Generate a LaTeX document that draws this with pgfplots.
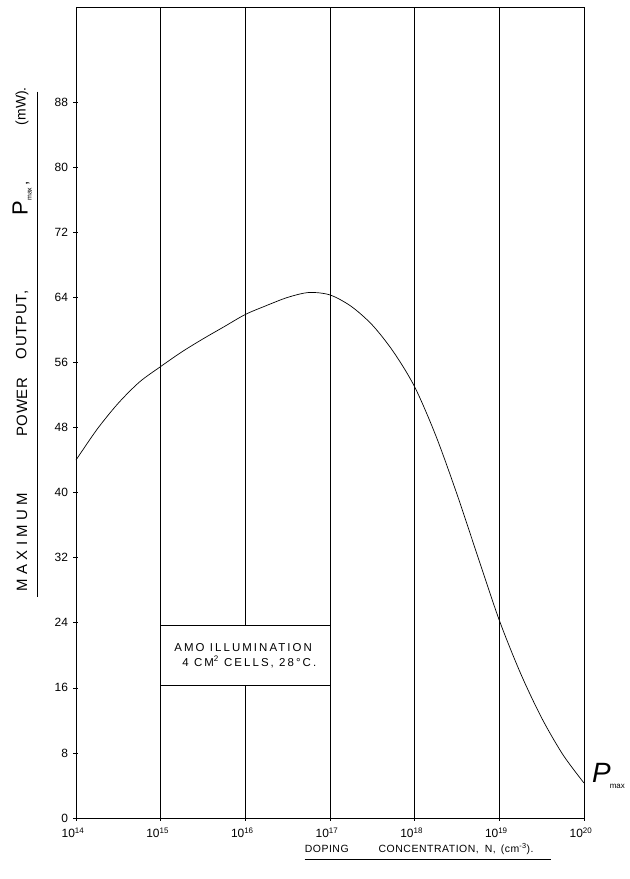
\documentclass[border=0pt]{standalone}
\usepackage{pgfplots}
\pgfplotsset{compat=1.18}
\usepackage{fontspec}
\setmainfont{Liberation Sans}
\newfontfamily\hand[LetterSpace=5]{Liberation Sans}
\newfontfamily\handbox[LetterSpace=18]{Liberation Sans}
\newfontfamily\handwide[LetterSpace=30]{Liberation Sans}
\begin{document}
\begin{tikzpicture}
\begin{axis}[
  name=ax,
  scale only axis,
  width=508bp, height=811bp,
  xmin=14, xmax=20, ymin=0, ymax=99.7,
  xtick={14,15,16,17,18,19,20},
  xticklabels={10\textsuperscript{14},10\textsuperscript{15},10\textsuperscript{16},10\textsuperscript{17},10\textsuperscript{18},10\textsuperscript{19},10\textsuperscript{20}},
  ytick={0,8,16,24,32,40,48,56,64,72,80,88},
  xtick pos=bottom, ytick pos=left,
  xmajorgrids,
  grid style={black, line width=0.6pt},
  axis line style={black, line width=0.7pt},
  tick style={black, line width=0.6pt},
  tick align=center,
  major tick length=5bp,
  /pgf/number format/assume math mode=true,
  yticklabel style={font=\fontsize{12}{12}\selectfont, xshift=-2bp},
  xticklabel style={font=\fontsize{12}{12}\selectfont, yshift=-4bp, xshift=-3bp},
  clip=false,
]
\addplot[smooth, black, line width=0.7pt] coordinates {
(14.0,44.0) (14.25,47.8) (14.5,51.0) (14.75,53.6) (15.0,55.5)
(15.25,57.3) (15.5,58.9) (15.75,60.4) (16.0,61.9) (16.25,63.0)
(16.5,64.0) (16.75,64.6) (17.0,64.3) (17.25,62.9) (17.5,60.6)
(17.75,57.3) (18.0,53.0) (18.25,47.0) (18.5,39.8) (18.75,32.0)
(19.0,24.3) (19.25,17.8) (19.5,12.3) (19.75,7.8) (20.0,4.3)
};
% annotation box
\draw[black, line width=0.6pt, fill=white] (axis cs:15.0,16.3) rectangle (axis cs:17.0,23.7);
\node[align=left, font=\handbox\fontsize{11.5}{15}\selectfont, anchor=center] at (axis cs:16.0,20.0)
  {AMO ILLUMINATION\\\hspace*{8bp}4 CM\textsuperscript{2} CELLS, 28°C.};
% P_max label
\node[anchor=west, inner sep=0pt, xshift=8bp] at (axis cs:20,5.2)
  {\fontsize{28}{28}\selectfont\itshape P\kern-1bp\raisebox{-6bp}{\fontsize{8}{8}\selectfont\upshape max}};
% y label pieces
\begin{scope}[every node/.style={rotate=90, inner sep=0pt, anchor=center}]
\node[font=\handwide\fontsize{15}{15}\selectfont] at ([xshift=-54bp]axis cs:14,33.9) {MAXIMUM};
\node[font=\hand\fontsize{15}{15}\selectfont] at ([xshift=-54bp]axis cs:14,50.5) {POWER};
\node[font=\hand\fontsize{15}{15}\selectfont] at ([xshift=-54bp]axis cs:14,60.6) {OUTPUT,};
\node[font=\fontsize{15}{15}\selectfont] at ([xshift=-54bp]axis cs:14,76.2) {{\fontsize{22}{22}\selectfont P}\raisebox{-4bp}{\fontsize{7}{7}\selectfont max}\,,};
\node[font=\fontsize{14}{14}\selectfont] at ([xshift=-54bp]axis cs:14,87.5) {(mW).};
\end{scope}
\draw[black, line width=0.6pt] ([xshift=-39bp]axis cs:14,89.3) -- ([xshift=-39bp]axis cs:14,27.2);
% x label
\node[anchor=west, inner sep=0pt, font=\hand\fontsize{10.5}{12}\selectfont] at ([yshift=-31bp]axis cs:16.70,0)
  {DOPING\hspace{30bp}CONCENTRATION,\hspace{6bp}N,\hspace{5bp}(cm\textsuperscript{-3}).};
\draw[black, line width=0.6pt] ([yshift=-41bp]axis cs:16.70,0) -- ([yshift=-41bp]axis cs:19.61,0);
\end{axis}
\pgfresetboundingbox
\path[use as bounding box] ([shift={(-76bp,-61bp)}]ax.south west) rectangle ([shift={(46bp,7bp)}]ax.north east);
\end{tikzpicture}
\end{document}
